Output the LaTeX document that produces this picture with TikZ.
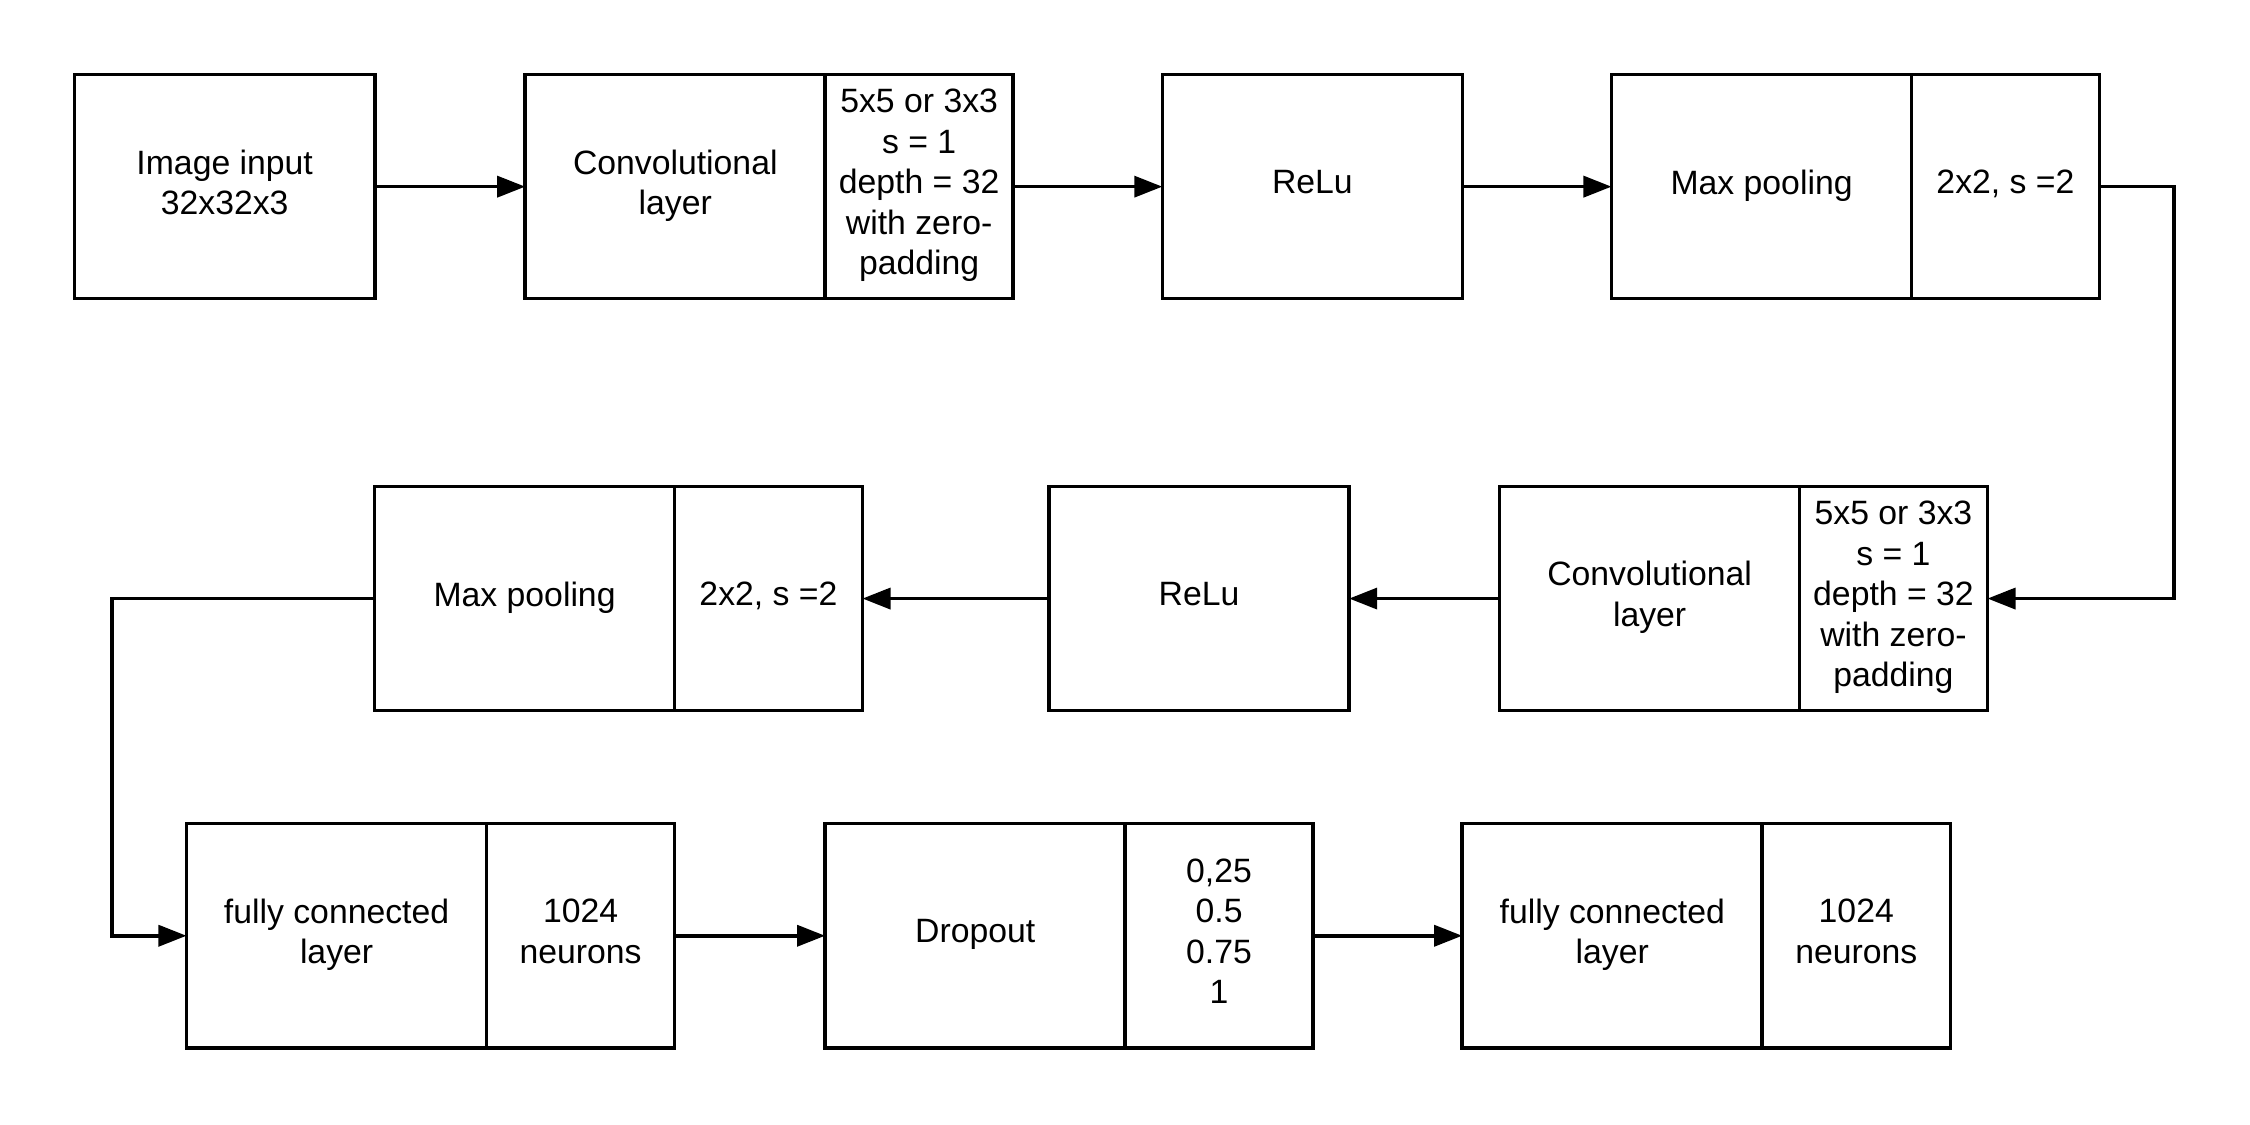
\documentclass[tikz,border=0pt]{standalone}
\usepackage{fontspec}
\setmainfont{Liberation Sans}
\usetikzlibrary{arrows.meta}
\begin{document}
\begin{tikzpicture}[x=0.01cm,y=-0.01cm,
  every node/.style={font=\fontsize{9.6pt}{11.5pt}\selectfont, align=center, inner sep=0pt, outer sep=0pt, text depth=2.6pt},
  mainbox/.style={draw, line width=1pt, rectangle, anchor=north west, minimum width=3cm, minimum height=2.24cm},
  sidebox/.style={draw, line width=1pt, rectangle, anchor=north west, minimum width=1.88cm, minimum height=2.24cm},
  flow/.style={line width=1pt, -{Triangle[length=2.8mm,width=2.1mm]}}]
\useasboundingbox (0,0) rectangle (2250,1125);

% first row
\node[mainbox] (img) at (74.6,74.6) {Image input\\32x32x3};
\node[mainbox] (conva) at (525.2,74.6) {Convolutional\\layer};
\node[sidebox] (convas) at (825.1,74.6) {5x5 or 3x3\\s = 1\\depth = 32\\with zero-\\padding};
\node[mainbox] (relua) at (1162.3,74.6) {ReLu};
\node[mainbox] (poola) at (1611.5,74.6) {Max pooling};
\node[sidebox] (poolas) at (1911.4,74.6) {2x2, s =2};

% second row
\node[mainbox] (poolb) at (374.5,486.5) {Max pooling};
\node[sidebox] (poolbs) at (674.4,486.5) {2x2, s =2};
\node[mainbox] (relub) at (1049,486.5) {ReLu};
\node[mainbox] (convb) at (1499.5,486.5) {Convolutional\\layer};
\node[sidebox] (convbs) at (1799.4,486.5) {5x5 or 3x3\\s = 1\\depth = 32\\with zero-\\padding};

% third row
\node[mainbox] (fca) at (186.5,823.7) {fully connected\\layer};
\node[sidebox] (fcas) at (486.5,823.7) {1024\\neurons};
\node[mainbox] (drop) at (825.1,823.7) {Dropout};
\node[sidebox] (drops) at (1125,823.7) {0,25\\0.5\\0.75\\1};
\node[mainbox] (fcb) at (1462.2,823.7) {fully connected\\layer};
\node[sidebox] (fcbs) at (1762.2,823.7) {1024\\neurons};

% bends of the long connectors
\path (poolas.east) ++(74.6,0) coordinate (turnr);
\path (poolb.west) ++(-262.6,0) coordinate (turnl);

% connectors
\draw[flow] (img.east) -- (conva.west);
\draw[flow] (convas.east) -- (relua.west);
\draw[flow] (relua.east) -- (poola.west);
\draw[flow] (poolas.east) -- (turnr) |- (convbs.east);
\draw[flow] (convb.west) -- (relub.east);
\draw[flow] (relub.west) -- (poolbs.east);
\draw[flow] (poolb.west) -- (turnl) |- (fca.west);
\draw[flow] (fcas.east) -- (drop.west);
\draw[flow] (drops.east) -- (fcb.west);
\end{tikzpicture}
\end{document}
